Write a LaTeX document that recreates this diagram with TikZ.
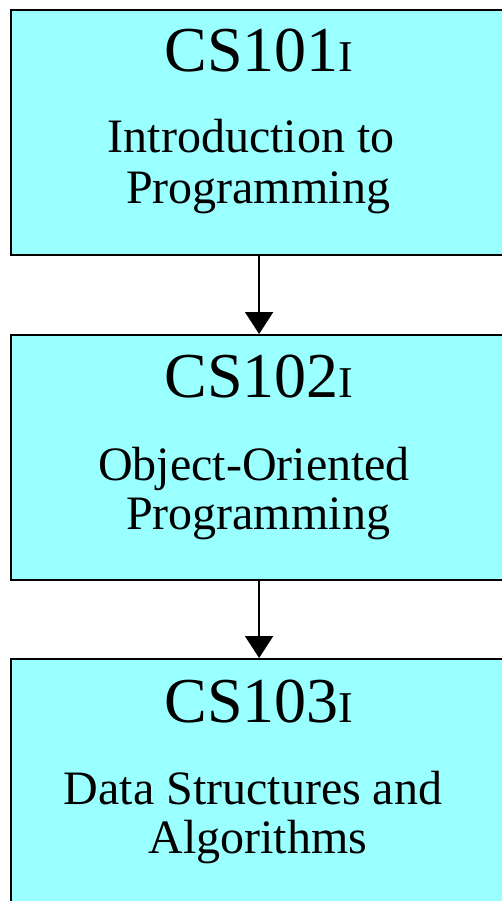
\documentclass[tikz,border=0pt]{standalone}
\usepackage{fontspec}
\setmainfont{Liberation Serif}
\usetikzlibrary{arrows.meta}
\definecolor{boxfill}{RGB}{153,255,255}
\tikzset{
  course/.style={draw=black, line width=2.2pt, fill=boxfill, inner sep=0pt,
    minimum width=496pt, minimum height=245pt, anchor=north west},
  code/.style={anchor=base, inner sep=0pt, font=\fontsize{64}{64}\selectfont},
  title/.style={anchor=base, inner sep=0pt, font=\fontsize{48}{54}\selectfont},
  prereq/.style={draw=black, line width=2pt, -{Triangle[length=22pt, width=28pt]}}
}
\newcommand{\smI}{{\fontsize{44}{44}\selectfont I}}
\begin{document}
\begin{tikzpicture}[x=1pt, y=-1pt]
  \path[use as bounding box] (0,0) rectangle (502,901);
  \clip (0,0) rectangle (502,901);
  \fill[white] (0,0) rectangle (502,901);

  % course boxes
  \node[course] (c1) at (10,9) {};
  \node[course] (c2) at (10,334) {};
  \node[course] (c3) at (10,658) {};

  % course codes
  \node[code] (k1) at (259,72) {CS101\smI};
  \node[code] (k2) at (259,397) {CS102\smI};
  \node[code] (k3) at (259,722) {CS103\smI};

  % course titles
  \node[title] (n1a) at (251,153) {Introduction to};
  \node[title] (n1b) at (258,204) {Programming};
  \node[title] (n2a) at (254,480) {Object-Oriented};
  \node[title] (n2b) at (258,529) {Programming};
  \node[title] (n3a) at (253,804) {Data Structures and};
  \node[title] (n3b) at (258,853) {Algorithms};

  % prerequisite arrows
  \draw[prereq] (c1.south) -- (c2.north);
  \draw[prereq] (c2.south) -- (c3.north);
\end{tikzpicture}
\end{document}
